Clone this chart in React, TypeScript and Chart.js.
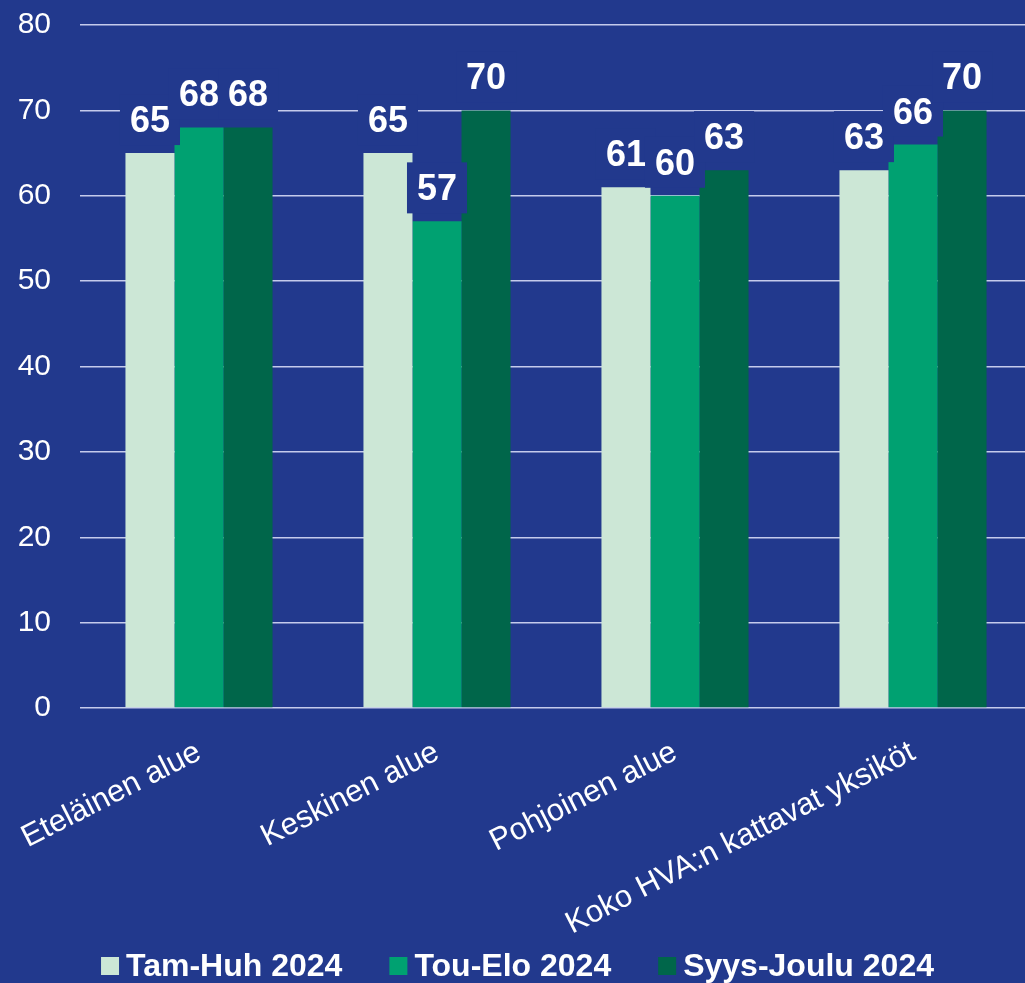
import React, { useEffect, useRef } from 'react';
import { Chart, registerables } from 'chart.js';

Chart.register(...registerables);

const categories = ['Eteläinen alue', 'Keskinen alue', 'Pohjoinen alue', 'Koko HVA:n kattavat yksiköt'];
const seriesNames = ['Tam-Huh 2024', 'Tou-Elo 2024', 'Syys-Joulu 2024'];
const tamHuh = [65, 65, 61, 63];
const touElo = [68, 57, 60, 66];
const syysJoulu = [68, 70, 63, 70];
const seriesColors = ['#CCE7D6', '#00A171', '#00664A'];
const yMin = 0;
const yMax = 80;
const yStep = 10;

const BG = '#22398D';
const FONT = '"Liberation Sans", Arial, sans-serif';
const VIEW_W = 1025;
const CANVAS_W = 1032;
const CANVAS_H = 983;

const bgPlugin = {
  id: 'bgFill',
  beforeDraw(chart: any) {
    const ctx = chart.ctx;
    ctx.save();
    ctx.fillStyle = BG;
    ctx.fillRect(0, 0, chart.width, chart.height);
    ctx.restore();
  },
};

const labelPlugin = {
  id: 'valueLabels',
  afterDatasetsDraw(chart: any) {
    const ctx = chart.ctx;
    ctx.save();
    ctx.font = `bold 36px ${FONT}`;
    const items: any[] = [];
    chart.data.datasets.forEach((ds: any, di: number) => {
      const meta = chart.getDatasetMeta(di);
      meta.data.forEach((bar: any, i: number) => {
        const text = String(ds.data[i]);
        const w = ctx.measureText(text).width;
        items.push({ x: bar.x, y: bar.y, text, w });
      });
    });
    ctx.fillStyle = BG;
    items.forEach((it) => ctx.fillRect(it.x - it.w / 2 - 10, it.y - 8 - 51, it.w + 20, 51));
    ctx.fillStyle = '#ffffff';
    ctx.textAlign = 'center';
    ctx.textBaseline = 'alphabetic';
    items.forEach((it) => ctx.fillText(it.text, it.x, it.y - 21));
    ctx.restore();
  },
};

const legendPlugin = {
  id: 'customLegend',
  afterDraw(chart: any) {
    const ctx = chart.ctx;
    ctx.save();
    ctx.font = `bold 32px ${FONT}`;
    const box = 18;
    const gap = 7;
    const spacing = 47;
    const ds = chart.data.datasets;
    const widths = ds.map((d: any) => box + gap + ctx.measureText(d.label).width);
    const total = widths.reduce((a: number, b: number) => a + b, 0) + spacing * (ds.length - 1);
    let x = VIEW_W / 2 - total / 2 + 5;
    const cy = 966;
    ds.forEach((d: any, i: number) => {
      ctx.fillStyle = d.backgroundColor;
      ctx.fillRect(x, cy - box / 2, box, box);
      ctx.fillStyle = '#ffffff';
      ctx.textAlign = 'left';
      ctx.textBaseline = 'middle';
      ctx.fillText(d.label, x + box + gap, cy + 1);
      x += widths[i] + spacing;
    });
    ctx.restore();
  },
};

export default function App() {
  const ref = useRef<HTMLCanvasElement | null>(null);

  useEffect(() => {
    document.body.style.margin = '0';
    document.body.style.background = BG;
    if (!ref.current) return;
    const chart = new Chart(ref.current, {
      type: 'bar',
      data: {
        labels: categories,
        datasets: [tamHuh, touElo, syysJoulu].map((d, i) => ({
          label: seriesNames[i],
          data: d,
          backgroundColor: seriesColors[i],
          borderWidth: 0,
          barPercentage: 1,
          categoryPercentage: 0.618,
        })),
      },
      options: {
        responsive: false,
        animation: false,
        layout: { padding: { top: 25, left: 0, right: 0, bottom: 0 } },
        plugins: {
          legend: { display: false },
          tooltip: { enabled: false },
        },
        scales: {
          x: {
            grid: { display: false },
            border: { display: false },
            ticks: {
              color: '#ffffff',
              font: { family: FONT, size: 31 },
              minRotation: 27,
              maxRotation: 27,
              padding: 18,
              autoSkip: false,
            },
            afterFit(scale: any) {
              scale.paddingLeft = 0;
              scale.paddingRight = 0;
              scale.height = 275;
            },
          },
          y: {
            min: yMin,
            max: yMax,
            border: { display: false },
            grid: { color: '#C5CBEC', lineWidth: 1.5, drawTicks: false },
            ticks: {
              stepSize: yStep,
              color: '#ffffff',
              font: { family: FONT, size: 30 },
              padding: 29,
            },
            afterFit(scale: any) {
              scale.width = 80;
              scale.paddingTop = 0;
              scale.paddingBottom = 0;
            },
          },
        },
      },
      plugins: [bgPlugin, labelPlugin, legendPlugin],
    } as any);
    return () => chart.destroy();
  }, []);

  return (
    <div style={{ width: VIEW_W, height: CANVAS_H, background: BG, overflow: 'hidden' }}>
      <canvas ref={ref} width={CANVAS_W} height={CANVAS_H} style={{ display: 'block' }} />
    </div>
  );
}
